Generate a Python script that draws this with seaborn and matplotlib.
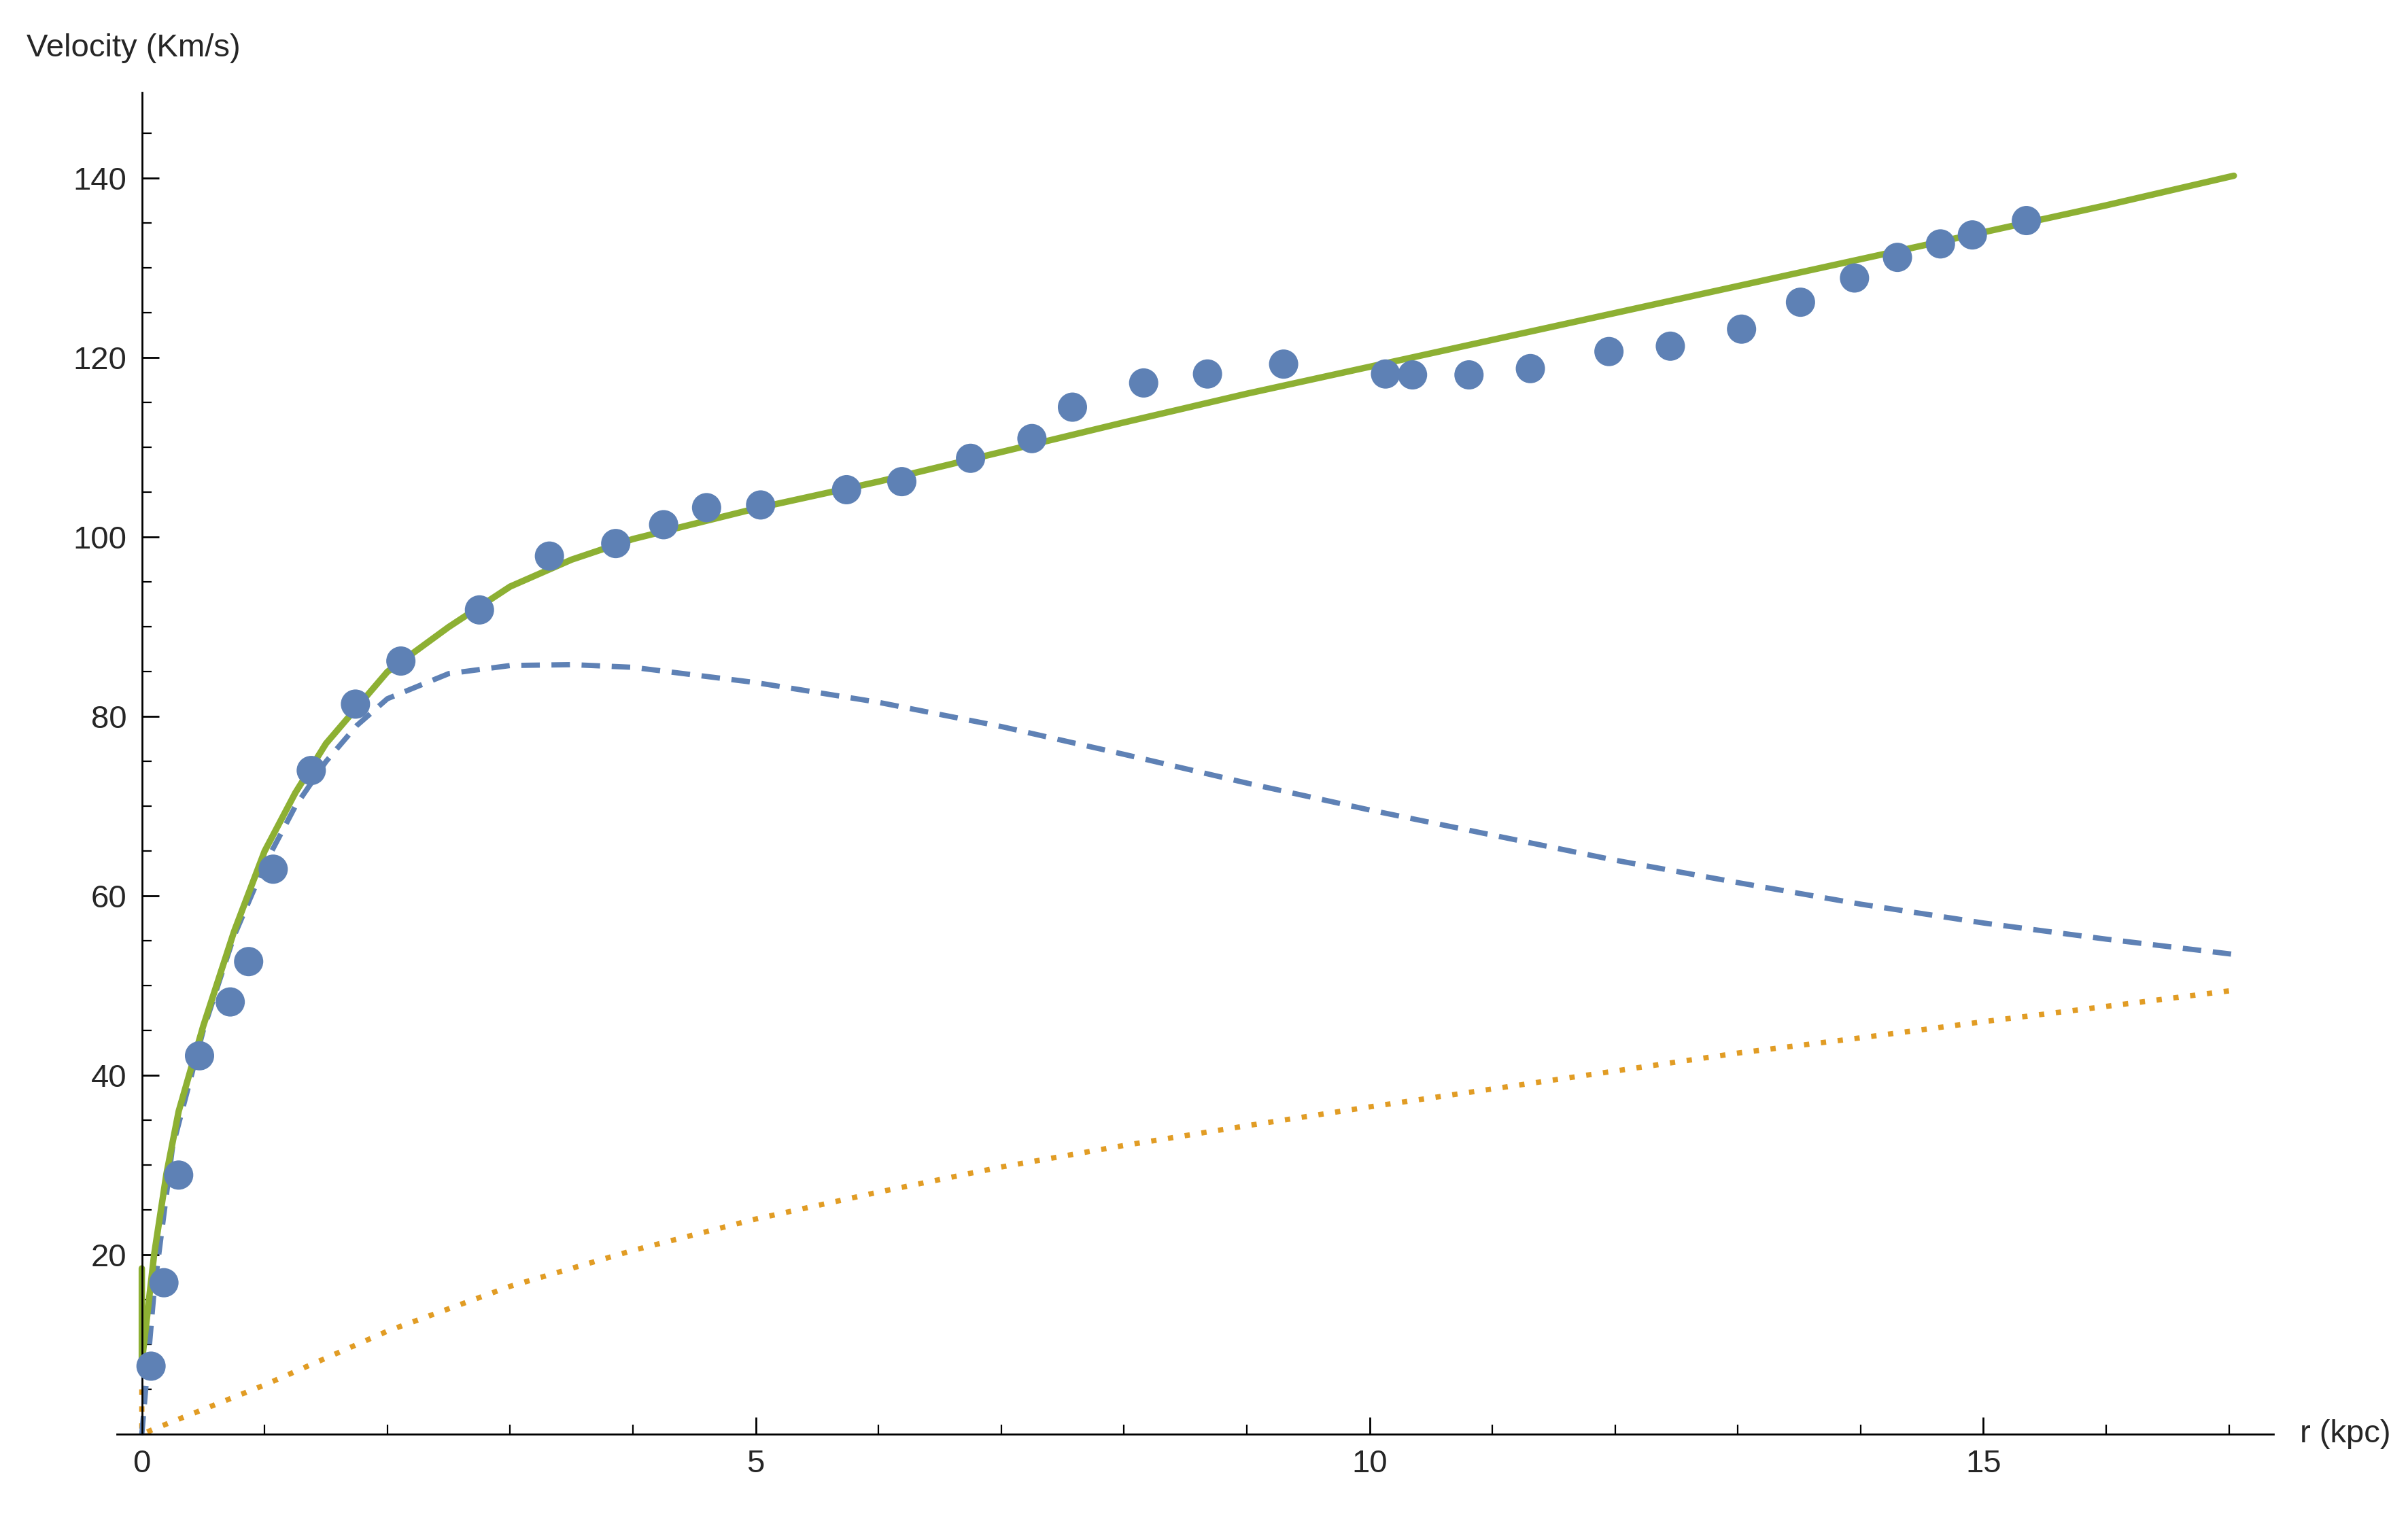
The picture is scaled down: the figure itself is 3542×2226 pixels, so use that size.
import numpy as np
import matplotlib
matplotlib.use('Agg')
import matplotlib.pyplot as plt
from matplotlib.ticker import MultipleLocator
import seaborn as sns

# ── Data ──────────────────────────────────────────────────────────────────────
obs_r = [0.075, 0.18, 0.30, 0.47, 0.72, 0.87, 1.07, 1.38, 1.74, 2.11, 2.75, 3.32,
         3.86, 4.25, 4.60, 5.04, 5.74, 6.19, 6.75, 7.25, 7.58, 8.16, 8.68, 9.30,
         10.13, 10.35, 10.81, 11.31, 11.95, 12.45, 13.03, 13.51, 13.95, 14.30,
         14.65, 14.91, 15.35]
obs_v = [7.6, 16.9, 28.9, 42.2, 48.2, 52.7, 63.0, 74.0, 81.4, 86.2, 91.9, 97.9,
         99.3, 101.4, 103.3, 103.6, 105.3, 106.2, 108.8, 111.0, 114.5, 117.2, 118.2,
         119.3, 118.2, 118.1, 118.1, 118.8, 120.7, 121.3, 123.2, 126.2, 128.9, 131.2,
         132.7, 133.7, 135.3]

tot_r = [0.0, 0.0, 0.05, 0.1, 0.2, 0.3, 0.5, 0.75, 1.0, 1.25, 1.5, 2.0, 2.5, 3.0, 3.5,
         4.0, 5.0, 6.0, 7.0, 8.0, 9.0, 10.0, 11.0, 12.0, 13.0, 14.0, 15.0, 16.0, 17.04]
tot_v = [18.5, 8.0, 14.0, 20.0, 29.0, 36.0, 45.5, 56.0, 65.0, 71.5, 77.0, 85.0, 90.0,
         94.5, 97.5, 99.8, 103.2, 106.2, 109.5, 112.8, 116.0, 119.0, 122.0, 125.0,
         128.0, 131.0, 134.0, 137.0, 140.3]

disk_r = [0.0, 0.1, 0.25, 0.5, 0.75, 1.0, 1.25, 1.5, 1.75, 2.0, 2.5, 3.0, 3.5, 4.0,
          5.0, 6.0, 7.0, 8.0, 9.0, 10.0, 11.0, 12.0, 13.0, 14.0, 15.0, 16.0, 17.04]
disk_v = [0.0, 16.0, 32.0, 45.0, 55.5, 63.5, 70.0, 75.0, 79.0, 82.0, 84.8, 85.7,
          85.8, 85.5, 83.8, 81.6, 78.9, 75.8, 72.6, 69.6, 66.8, 64.0, 61.5, 59.1,
          57.0, 55.2, 53.5]

halo_r = [0.0, 0.0, 0.1, 1.0, 2.0, 3.0, 4.0, 5.0, 6.0, 7.0, 8.0, 9.0, 10.0, 11.0,
          12.0, 13.0, 14.0, 15.0, 16.0, 17.04]
halo_v = [5.0, 0.0, 0.6, 5.5, 11.5, 16.5, 20.5, 24.0, 27.0, 29.8, 32.2, 34.4, 36.5,
          38.5, 40.5, 42.5, 44.2, 46.0, 47.7, 49.5]

GREEN = '#8DB033'
BLUE = '#5E81B5'
ORANGE = '#E19C24'

sns.set_style('white')
plt.rcParams['font.family'] = ['Liberation Sans', 'DejaVu Sans']

fig = plt.figure(figsize=(17.71, 11.13), dpi=200)
ax = fig.add_axes([0.0487, 0.052, 0.8953, 0.887])

sns.lineplot(x=halo_r, y=halo_v, ax=ax, color=ORANGE, lw=2.8, linestyle=(0, (1, 2.2)),
             sort=False, estimator=None)
sns.lineplot(x=disk_r, y=disk_v, ax=ax, color=BLUE, lw=2.8, linestyle=(0, (3.5, 2.2)),
             sort=False, estimator=None)
sns.lineplot(x=tot_r, y=tot_v, ax=ax, color=GREEN, lw=3.4, sort=False, estimator=None)
sns.scatterplot(x=obs_r, y=obs_v, ax=ax, color=BLUE, s=240, edgecolor='none', zorder=5)

ax.set_xlim(-0.2, 17.36)
ax.set_ylim(0, 149.6)
ax.spines['left'].set_position(('data', 0))
ax.spines['top'].set_visible(False)
ax.spines['right'].set_visible(False)
for s in ('left', 'bottom'):
    ax.spines[s].set_linewidth(1.0)
    ax.spines[s].set_color('black')

ax.xaxis.set_major_locator(MultipleLocator(5))
ax.xaxis.set_minor_locator(MultipleLocator(1))
ax.yaxis.set_major_locator(MultipleLocator(20))
ax.yaxis.set_minor_locator(MultipleLocator(5))
ax.set_yticks([20, 40, 60, 80, 100, 120, 140])
ax.tick_params(which='major', direction='in', length=9, width=1, labelsize=17, pad=8)
ax.tick_params(which='minor', direction='in', length=5, width=0.8)
ax.tick_params(axis='both', which='both', bottom=True, left=True, color='black')
ax.set_xlabel('')
ax.set_ylabel('')

fig.text(0.011, 0.968, 'Velocity (Km/s)', fontsize=17, ha='left', va='center')
fig.text(0.955, 0.052, 'r (kpc)', fontsize=17, ha='left', va='center')

fig.savefig('out.png', dpi=200, facecolor='white')
